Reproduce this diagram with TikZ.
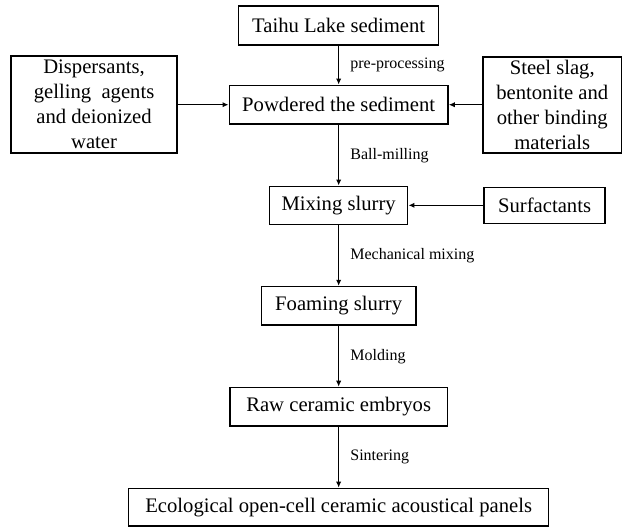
\documentclass[tikz,border=0pt]{standalone}
\usepackage{fontspec}
\setmainfont{Liberation Serif}
\usetikzlibrary{arrows.meta, positioning}
\begin{document}
\begin{tikzpicture}[
        stage/.style={rectangle, draw=black, line width=1.2pt, align=center,
                  font=\fontsize{15.5}{18.75}\selectfont,
                  minimum height=29pt, inner sep=2pt},
        arr/.style={-{Latex[length=4.5pt,width=4pt]}, line width=0.9pt},
        lbl/.style={right, xshift=5pt, font=\fontsize{12}{14}\selectfont},
        node distance=45.5pt]
      \useasboundingbox (0,0) rectangle (468.75pt,-395.25pt);
      \node[stage, minimum width=150pt] (lake) at (254pt,-19.1pt) {Taihu Lake sediment};
      \node[stage, minimum width=164pt, below=29.25pt of lake] (powder) {Powdered the sediment};
      \node[stage, minimum width=124.5pt, minimum height=72.75pt, left=38pt of powder] (disp)
            {Dispersants,\\ gelling~ agents\\ and deionized\\ water};
      \node[stage, minimum width=104pt, minimum height=72pt, right=25pt of powder] (steel)
            {Steel slag,\\ bentonite and\\ other binding\\ materials};
      \node[stage, minimum width=103.5pt, minimum height=28.5pt, below=of powder] (mix) {Mixing slurry};
      \node[stage, minimum width=91pt, minimum height=27pt, right=56pt of mix] (surf) {Surfactants};
      \node[stage, minimum width=116pt, below=of mix] (foam) {Foaming slurry};
      \node[stage, minimum width=163pt, below=of foam] (raw) {Raw ceramic embryos};
      \node[stage, minimum width=315pt, minimum height=28pt, below=of raw] (panel)
            {Ecological open-cell ceramic acoustical panels};
      \draw[arr] (lake) -- node[lbl] {pre-processing} (powder);
      \draw[arr] (disp) -- (powder);
      \draw[arr] (steel) -- (powder);
      \draw[arr] (powder) -- node[lbl] {Ball-milling} (mix);
      \draw[arr] (surf) -- (mix);
      \draw[arr] (mix) -- node[lbl] {Mechanical mixing} (foam);
      \draw[arr] (foam) -- node[lbl] {Molding} (raw);
      \draw[arr] (raw) -- node[lbl] {Sintering} (panel);
    \end{tikzpicture}
\end{document}
